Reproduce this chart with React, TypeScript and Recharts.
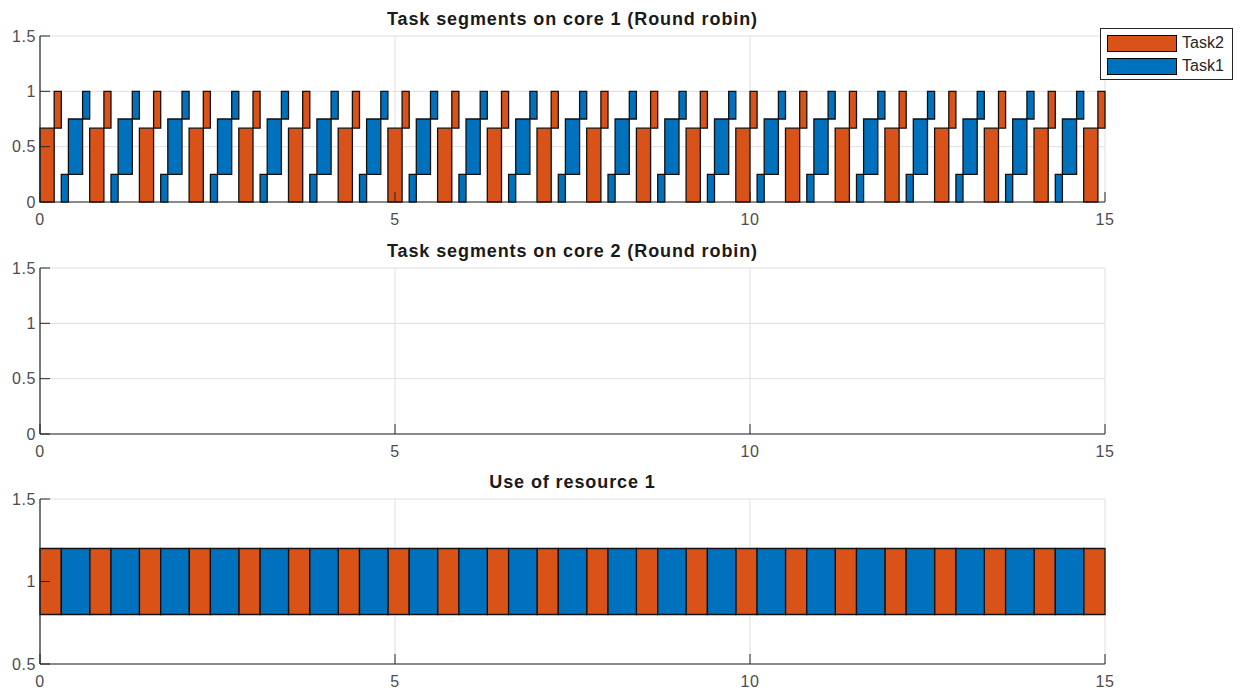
import { CartesianGrid, ComposedChart, Legend, ReferenceArea, XAxis, YAxis } from 'recharts';

// schedule (time units)
const task2Starts = [0, 0.7, 1.4, 2.1, 2.8, 3.5, 4.2, 4.9, 5.6, 6.3, 7.0, 7.7, 8.4, 9.1, 9.8, 10.5, 11.2, 11.9, 12.6, 13.3, 14.0, 14.7];
const task1Starts = [0.3, 1.0, 1.7, 2.4, 3.1, 3.8, 4.5, 5.2, 5.9, 6.6, 7.3, 8.0, 8.7, 9.4, 10.1, 10.8, 11.5, 12.2, 12.9, 13.6, 14.3];

// progress steps inside one job: offset from job start, progress band
const task2Steps = [
  { from: 0, to: 0.2, low: 0, high: 0.667 },
  { from: 0.2, to: 0.3, low: 0.667, high: 1 },
];
const task1Steps = [
  { from: 0, to: 0.1, low: 0, high: 0.25 },
  { from: 0.1, to: 0.3, low: 0.25, high: 0.75 },
  { from: 0.3, to: 0.4, low: 0.75, high: 1 },
];

const resourceBand = [0.8, 1.2];

const xTicks = [0, 5, 10, 15];
const coreTicks = [0, 0.5, 1, 1.5];
const resourceTicks = [0.5, 1, 1.5];

const ORANGE = '#D95319';
const BLUE = '#0072BD';
const AXIS = '#262626';
const TICK_TEXT = '#4d4d4d';
const GRID = '#dfdfdf';
const FONT = '"Liberation Sans", Arial, sans-serif';

const legendItems = [
  { name: 'Task2', color: ORANGE },
  { name: 'Task1', color: BLUE },
];

type Seg = { x1: number; x2: number; y1: number; y2: number; color: string };

const jobSegments = (starts: number[], steps: typeof task1Steps, color: string): Seg[] =>
  starts.flatMap((s) =>
    steps.map((st) => ({ x1: s + st.from, x2: s + st.to, y1: st.low, y2: st.high, color }))
  );

const resourceSegments = (starts: number[], steps: typeof task1Steps, color: string): Seg[] =>
  starts.map((s) => ({
    x1: s,
    x2: s + steps[steps.length - 1].to,
    y1: resourceBand[0],
    y2: resourceBand[1],
    color,
  }));

const core1Segments = [
  ...jobSegments(task2Starts, task2Steps, ORANGE),
  ...jobSegments(task1Starts, task1Steps, BLUE),
];
const resource1Segments = [
  ...resourceSegments(task2Starts, task2Steps, ORANGE),
  ...resourceSegments(task1Starts, task1Steps, BLUE),
];

const XTick = (props: any) => {
  const { x, y, payload } = props;
  return (
    <g>
      <line x1={x} x2={x} y1={y} y2={y - 10} stroke={AXIS} strokeWidth={1} />
      <text x={x} y={y + 17} textAnchor="middle" dominantBaseline="central" fill={TICK_TEXT} fontSize={16} letterSpacing={0.6} fontFamily={FONT}>
        {payload.value}
      </text>
    </g>
  );
};

const YTick = (props: any) => {
  const { x, y, payload } = props;
  return (
    <g>
      <line x1={x} x2={x + 10} y1={y} y2={y} stroke={AXIS} strokeWidth={1} />
      <text x={x - 4} y={y} textAnchor="end" dominantBaseline="central" fill={TICK_TEXT} fontSize={16} letterSpacing={0.6} fontFamily={FONT}>
        {payload.value}
      </text>
    </g>
  );
};

const LegendBox = () => (
  <div
    style={{
      position: 'relative',
      width: 133,
      height: 52,
      boxSizing: 'border-box',
      border: `1px solid ${AXIS}`,
      background: '#fff',
      fontFamily: FONT,
    }}
  >
    {legendItems.map((item, i) => (
      <div key={item.name} style={{ position: 'absolute', left: 6, top: 5 + i * 23, height: 18, display: 'flex', alignItems: 'center' }}>
        <div style={{ width: 70, height: 17, boxSizing: 'border-box', background: item.color, border: '1px solid #000' }} />
        <span style={{ marginLeft: 5, fontSize: 16, color: AXIS }}>{item.name}</span>
      </div>
    ))}
  </div>
);

interface PanelProps {
  title: string;
  top: number;
  height: number;
  marginTop: number;
  axisHeight: number;
  yDomain: [number, number];
  yTicks: number[];
  segments: Seg[];
  showLegend?: boolean;
}

function Panel({ title, top, height, marginTop, axisHeight, yDomain, yTicks, segments, showLegend }: PanelProps) {
  return (
    <div style={{ position: 'absolute', left: 0, top, width: 1245, height }}>
      <div
        style={{
          position: 'absolute',
          left: 40,
          width: 1065,
          top: marginTop - 27,
          lineHeight: '21px',
          textAlign: 'center',
          fontFamily: FONT,
          fontWeight: 'bold',
          fontSize: 18,
          letterSpacing: 0.9,
          color: '#1a1a1a',
        }}
      >
        {title}
      </div>
      <ComposedChart width={1245} height={height} margin={{ top: marginTop, right: 140, bottom: 0, left: 0 }}>
        <CartesianGrid stroke={GRID} strokeWidth={1} />
        <XAxis
          type="number"
          dataKey="x"
          domain={[0, 15]}
          ticks={xTicks}
          interval={0}
          height={axisHeight}
          tickSize={0}
          tickMargin={0}
          tickLine={false}
          axisLine={{ stroke: AXIS, strokeWidth: 1.2 }}
          tick={<XTick />}
          allowDataOverflow
        />
        <YAxis
          type="number"
          domain={yDomain}
          ticks={yTicks}
          interval={0}
          width={40}
          tickSize={0}
          tickMargin={0}
          tickLine={false}
          axisLine={{ stroke: AXIS, strokeWidth: 1.2 }}
          tick={<YTick />}
          allowDataOverflow
        />
        {segments.map((s, i) => (
          <ReferenceArea
            key={`seg-${i}`}
            x1={s.x1}
            x2={s.x2}
            y1={s.y1}
            y2={s.y2}
            fill={s.color}
            fillOpacity={1}
            stroke="#111"
            strokeWidth={1.3}
            ifOverflow="visible"
          />
        ))}
        {showLegend && (
          <Legend
            layout="vertical"
            align="center"
            verticalAlign="middle"
            wrapperStyle={{ left: 1100, top: 28, width: 133, height: 52 }}
            content={() => <LegendBox />}
          />
        )}
      </ComposedChart>
    </div>
  );
}

export default function App() {
  return (
    <div style={{ position: 'absolute', left: 0, top: 0, width: 1245, height: 692, background: '#fff', overflow: 'hidden' }}>
      <Panel
        title="Task segments on core 1 (Round robin)"
        top={0}
        height={232}
        marginTop={36}
        axisHeight={30}
        yDomain={[0, 1.5]}
        yTicks={coreTicks}
        segments={core1Segments}
        showLegend
      />
      <Panel
        title="Task segments on core 2 (Round robin)"
        top={232}
        height={232}
        marginTop={36}
        axisHeight={30}
        yDomain={[0, 1.5]}
        yTicks={coreTicks}
        segments={[]}
      />
      <Panel
        title="Use of resource 1"
        top={464}
        height={228}
        marginTop={35}
        axisHeight={28}
        yDomain={[0.5, 1.5]}
        yTicks={resourceTicks}
        segments={resource1Segments}
      />
    </div>
  );
}
